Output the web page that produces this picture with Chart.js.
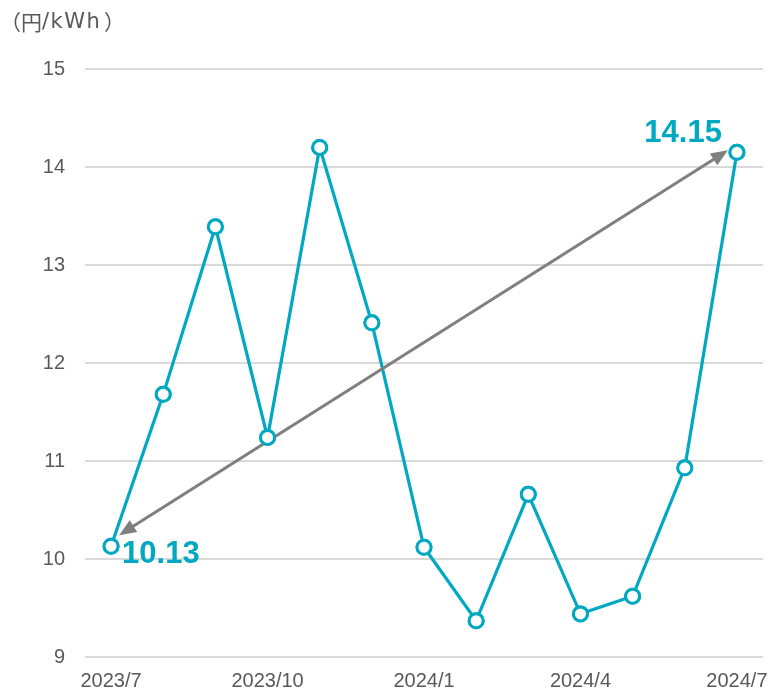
<!DOCTYPE html>
<html>
<head>
<meta charset="utf-8">
<script src="https://cdn.jsdelivr.net/npm/chart.js@4/dist/chart.umd.min.js"></script>
<style>
  html, body { margin: 0; padding: 0; background: #fff; }
  #wrap { width: 773px; height: 693px; }
</style>
</head>
<body>
<div id="wrap"><canvas id="priceChart"></canvas></div>
<script>
// unit price per month, 2023/7 - 2024/7
const months = ['2023/7','2023/8','2023/9','2023/10','2023/11','2023/12',
                '2024/1','2024/2','2024/3','2024/4','2024/5','2024/6','2024/7'];
const prices = [10.13, 11.68, 13.39, 11.24, 14.20, 12.41, 10.12, 9.37, 10.66, 9.44, 9.62, 10.93, 14.15];
const tickLabels = ['2023/7', '2023/10', '2024/1', '2024/4', '2024/7'];
const yTicks = [9, 10, 11, 12, 13, 14, 15];
const unitParts = ['（円', '/kWh', '）'];

const teal = '#00A9C1';
const grey = '#595959';
const baseFont = '"Liberation Sans", Arial, "Noto Sans CJK JP", sans-serif';

function drawArrowHead(c, x, y, ang) {
    const len = 17, half = 7;
    c.beginPath();
    c.moveTo(x, y);
    c.lineTo(x - len * Math.cos(ang) + half * Math.sin(ang), y - len * Math.sin(ang) - half * Math.cos(ang));
    c.lineTo(x - len * Math.cos(ang) - half * Math.sin(ang), y - len * Math.sin(ang) + half * Math.cos(ang));
    c.closePath();
    c.fill();
}

const extras = {
    id: 'extras',
    afterDraw(chart) {
        const c = chart.ctx;
        c.save();
        // unit label: full-width brackets, wider latin part
        c.fillStyle = grey;
        c.textBaseline = 'middle';
        c.textAlign = 'left';
        c.font = '21px "Noto Sans CJK JP", sans-serif';
        c.fillText(unitParts[0], 0, 22);
        c.font = '21px "DejaVu Sans", sans-serif';
        c.letterSpacing = '1.5px';
        c.fillText(unitParts[1], 42, 23);
        c.letterSpacing = '0px';
        c.font = '21px "Noto Sans CJK JP", sans-serif';
        c.fillText(unitParts[2], 104, 22);
        c.restore();
    },
    afterDatasetsDraw(chart) {
        const c = chart.ctx;
        const pts = chart.getDatasetMeta(0).data;
        const p0 = pts[0], p1 = pts[pts.length - 1];
        const sx = p0.x + 8, sy = p0.y - 11;
        const ex = p1.x - 9, ey = p1.y - 2;
        const ang = Math.atan2(ey - sy, ex - sx);
        c.save();
        c.strokeStyle = '#7F7F7F';
        c.fillStyle = '#7F7F7F';
        c.lineWidth = 3;
        c.beginPath();
        c.moveTo(sx + 12 * Math.cos(ang), sy + 12 * Math.sin(ang));
        c.lineTo(ex - 12 * Math.cos(ang), ey - 12 * Math.sin(ang));
        c.stroke();
        drawArrowHead(c, ex, ey, ang);
        drawArrowHead(c, sx, sy, ang + Math.PI);
        // start / end values
        c.fillStyle = teal;
        c.font = 'bold 31px ' + baseFont;
        c.textBaseline = 'middle';
        c.textAlign = 'left';
        c.fillText(prices[0].toFixed(2), p0.x + 11, p0.y + 8);
        c.textAlign = 'right';
        c.fillText(prices[prices.length - 1].toFixed(2), p1.x - 15, p1.y - 19);
        c.restore();
        // redraw points above arrow
        pts.forEach(pt => pt.draw(c, chart.chartArea));
    }
};

new Chart(document.getElementById('priceChart'), {
    type: 'line',
    data: {
        labels: months,
        datasets: [{
            data: prices,
            borderColor: teal,
            borderWidth: 3.2,
            pointRadius: 7,
            pointBorderWidth: 3,
            pointBackgroundColor: '#fff',
            pointBorderColor: teal,
            tension: 0
        }]
    },
    options: {
        responsive: true,
        maintainAspectRatio: false,
        animation: false,
        events: [],
        layout: { padding: { top: 69, right: 8, left: 0, bottom: 0 } },
        plugins: { legend: { display: false }, tooltip: { enabled: false } },
        scales: {
            x: {
                offset: true,
                grid: { display: false, drawTicks: false },
                border: { display: false },
                afterFit(axis) {
                    axis.height = 36;
                    axis.paddingLeft = 0;
                    axis.paddingRight = 0;
                },
                ticks: {
                    autoSkip: false,
                    maxRotation: 0,
                    padding: 12,
                    color: grey,
                    font: { size: 20, family: baseFont },
                    callback(v, i) {
                        const lab = months[i];
                        return tickLabels.includes(lab) ? lab : '';
                    }
                }
            },
            y: {
                min: yTicks[0],
                max: yTicks[yTicks.length - 1],
                afterFit(axis) { axis.width = 85; },
                afterBuildTicks(axis) { axis.ticks = yTicks.map(v => ({ value: v })); },
                grid: { color: '#D9D9D9', lineWidth: 2, drawTicks: false },
                border: { display: false },
                ticks: {
                    padding: 20,
                    color: grey,
                    font: { size: 20, family: baseFont }
                }
            }
        }
    },
    plugins: [extras]
});
</script>
</body>
</html>
